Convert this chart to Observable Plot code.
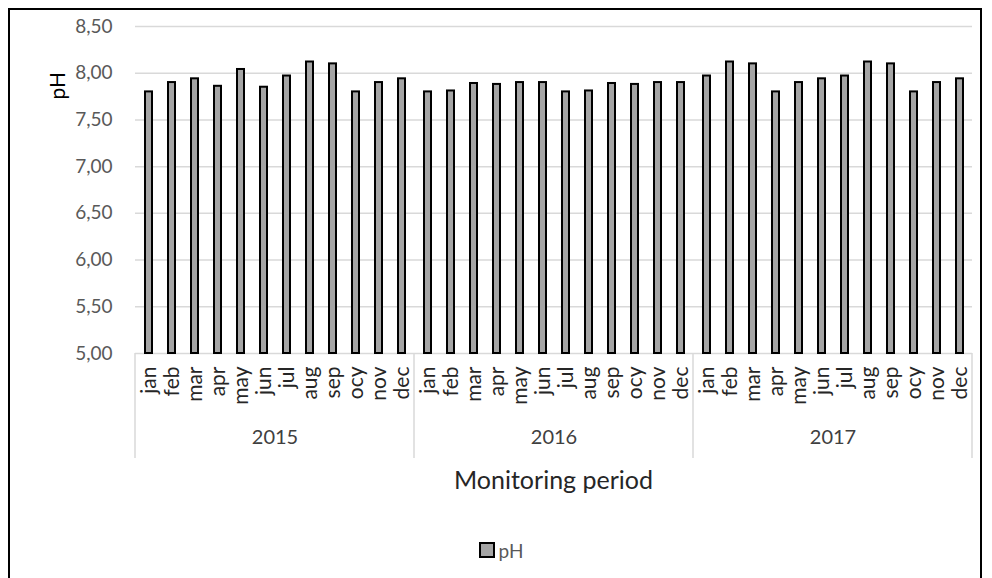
<!DOCTYPE html>
<html>
<head>
<meta charset="utf-8">
<script src="https://cdn.jsdelivr.net/npm/d3@7"></script>
<script src="https://cdn.jsdelivr.net/npm/@observablehq/plot@0.6"></script>
<style>
  html, body { margin: 0; padding: 0; background: #fff; }
  #frame {
    position: absolute; left: 8px; top: 8px;
    width: 970px; height: 580px;
    border: 2px solid #000; background: #fff;
    font-family: Lato, "Open Sans", sans-serif;
  }
  #legend {
    display: flex; justify-content: center; align-items: center;
    height: 20px; margin-top: 10px; padding-left: 12px;
    font-size: 19px; color: #595959;
  }
  #legend .sw {
    width: 12px; height: 12px; background: #a5a5a5;
    border: 2px solid #000; margin-right: 4px;
  }
</style>
</head>
<body>
<div id="frame"><div id="chart"></div><div id="legend"><span class="sw"></span><span>pH</span></div></div>
<script>
const years = ["2015", "2016", "2017"];
const months = ["jan","feb","mar","apr","may","jun","jul","aug","sep","ocy","nov","dec"];
const ph2015 = [7.80, 7.90, 7.94, 7.86, 8.04, 7.85, 7.97, 8.12, 8.10, 7.80, 7.90, 7.94];
const ph2016 = [7.80, 7.81, 7.89, 7.88, 7.90, 7.90, 7.80, 7.81, 7.89, 7.88, 7.90, 7.90];
const ph2017 = [7.97, 8.12, 8.10, 7.80, 7.90, 7.94, 7.97, 8.12, 8.10, 7.80, 7.90, 7.94];
const yTicks = [5.0, 5.5, 6.0, 6.5, 7.0, 7.5, 8.0, 8.5];
const yLabel = "pH";
const xLabel = "Monitoring period";

const series = [ph2015, ph2016, ph2017];
const data = years.flatMap((yr, i) => months.map((m, j) => ({year: yr, month: m, value: series[i][j]})));

const chart = Plot.plot({
  width: 970, height: 520,
  marginLeft: 125, marginRight: 8, marginTop: 16, marginBottom: 177,
  style: {fontFamily: "Lato, 'Open Sans', sans-serif", fontSize: "19px", background: "white"},
  fx: {domain: years, padding: 0},
  x: {domain: months, paddingInner: 0.7, paddingOuter: 0.35},
  y: {domain: [5, 8.5]},
  marks: [
    Plot.ruleY(yTicks, {stroke: "#d9d9d9", strokeWidth: 1.5}),
    Plot.barY(data, {fx: "year", x: "month", y1: 5, y2: "value", fill: "#a5a5a5", stroke: "#000", strokeWidth: 2}),
    Plot.axisY({ticks: yTicks, tickSize: 0, tickPadding: 23, tickFormat: d => d.toFixed(2).replace(".", ","), color: "#595959", fontSize: 19, label: null}),
    Plot.axisX({tickSize: 0, tickPadding: 13, tickRotate: -90, color: "#262626", fontSize: 21, label: null}),
    Plot.axisFx({anchor: "bottom", tickSize: 0, tickPadding: 76, color: "#404040", fontSize: 20, label: null})
  ]
});
document.getElementById("chart").appendChild(chart);

const fx = chart.scale("fx"), y = chart.scale("y");
const svg = d3.select(chart);
const base = y.apply(5);
const edges = years.map(yr => fx.apply(yr)).concat([fx.apply(years[years.length - 1]) + fx.bandwidth]);
svg.append("g").selectAll("line").data(edges).join("line")
  .attr("x1", d => d).attr("x2", d => d)
  .attr("y1", base).attr("y2", base + 105)
  .attr("stroke", "#d9d9d9").attr("stroke-width", 1.5);
const mid = (edges[0] + edges[edges.length - 1]) / 2;
svg.append("text").text(xLabel)
  .attr("x", mid).attr("y", base + 136)
  .attr("text-anchor", "middle").attr("font-size", 25).attr("fill", "#262626");
svg.append("text").text(yLabel)
  .attr("transform", `translate(50,${y.apply(7.86)}) rotate(-90)`)
  .attr("text-anchor", "middle").attr("dominant-baseline", "middle")
  .attr("font-size", 21).attr("fill", "#000");
</script>
</body>
</html>
